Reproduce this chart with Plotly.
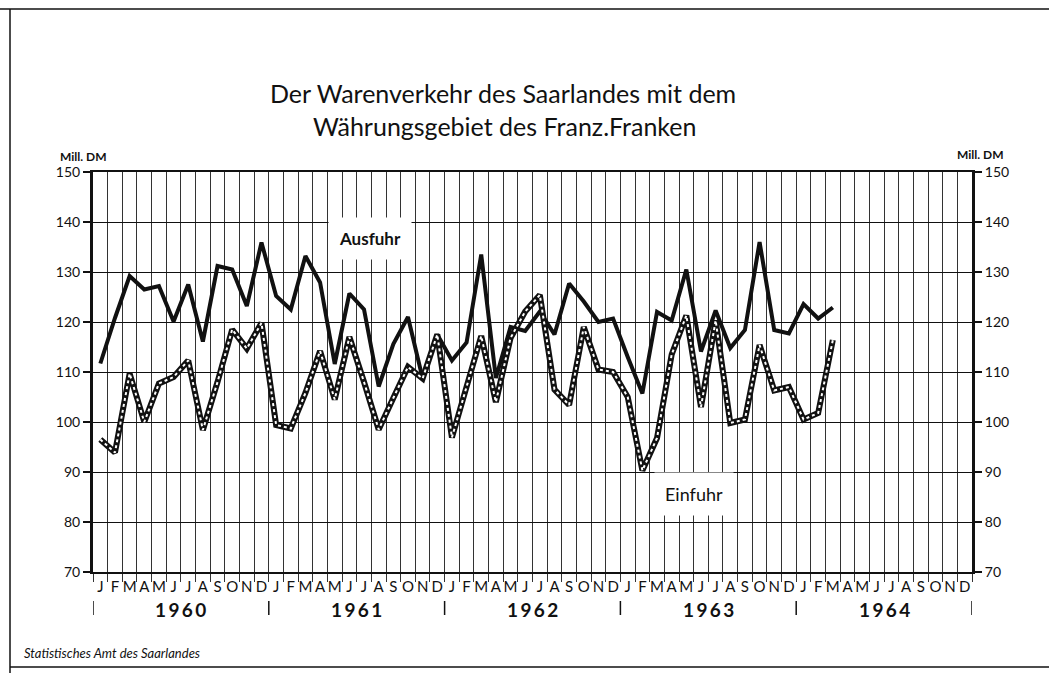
import plotly.graph_objects as go

# ---------------- data ----------------
months = ["J", "F", "M", "A", "M", "J", "J", "A", "S", "O", "N", "D"]
years = ["1960", "1961", "1962", "1963", "1964"]

ausfuhr = [
    111.7, 120.8, 129.2, 126.5, 127.2, 120.1, 127.5, 116.1, 131.2, 130.5, 123.2, 135.9,  # 1960
    125.2, 122.5, 133.2, 127.9, 111.6, 125.7, 122.5, 107.1, 115.6, 121.0, 108.7, 117.5,  # 1961
    112.3, 115.9, 133.5, 108.8, 119.0, 118.2, 122.1, 117.5, 127.7, 124.1, 120.0, 120.7,  # 1962
    113.0, 105.7, 122.0, 120.3, 130.5, 114.1, 122.3, 114.8, 118.4, 136.0, 118.4, 117.7,  # 1963
    123.6, 120.7, 122.9,                                                                  # 1964
]
einfuhr = [
    96.5, 93.9, 109.7, 100.0, 107.7, 109.0, 112.3, 98.4, 108.0, 118.5, 114.7, 119.8,     # 1960
    99.4, 98.7, 105.8, 114.2, 104.5, 117.0, 108.0, 98.5, 104.8, 111.0, 108.7, 117.5,     # 1961
    96.9, 107.3, 117.2, 104.0, 116.8, 122.1, 125.4, 106.5, 103.4, 119.0, 110.5, 110.0,   # 1962
    105.0, 90.3, 96.8, 113.5, 121.3, 103.0, 120.3, 99.8, 100.5, 115.4, 106.3, 107.0,     # 1963
    100.5, 101.8, 116.4,                                                                  # 1964
]
y_ticks = [70, 80, 90, 100, 110, 120, 130, 140, 150]

title_lines = ["Der Warenverkehr des Saarlandes mit dem", "Währungsgebiet des Franz.Franken"]
unit_label = "Mill. DM"
series_labels = ["Ausfuhr", "Einfuhr"]
source_text = "Statistisches Amt des Saarlandes"

# ---------------- derived ----------------
n_months = len(years) * 12
x_idx = list(range(len(ausfuhr)))
month_centers = list(range(n_months))
month_text = months * len(years)
boundaries = [i - 0.5 for i in range(n_months + 1)]

FONT = "Lato"
INK = "#111111"

W, H = 1049, 673
# plot area in page pixels: x 93..972, y 172..572
L, T = 93, 172
R = W - 972
B = H - 572
pw, ph = W - L - R, H - T - B


def px(xp):
    return (xp - L) / pw


def py(yp):
    return (H - B - yp) / ph


fig = go.Figure()

# Ausfuhr: solid heavy black line
fig.add_trace(go.Scatter(x=x_idx, y=ausfuhr, mode="lines",
                         line=dict(color=INK, width=4), hoverinfo="skip",
                         showlegend=False))
# Einfuhr: double line (black outline with white dashes inside)
fig.add_trace(go.Scatter(x=x_idx, y=einfuhr, mode="lines",
                         line=dict(color=INK, width=6), hoverinfo="skip",
                         showlegend=False))
fig.add_trace(go.Scatter(x=x_idx, y=einfuhr, mode="lines",
                         line=dict(color="white", width=2, dash="3px,3px"),
                         hoverinfo="skip", showlegend=False))
# dummy trace for right axis
fig.add_trace(go.Scatter(x=[x_idx[0]], y=[ausfuhr[0]], yaxis="y2", mode="lines",
                         line=dict(width=0), hoverinfo="skip", showlegend=False))

fig.update_layout(
    width=W, height=H,
    margin=dict(l=L, r=R, t=T, b=B),
    paper_bgcolor="white", plot_bgcolor="white",
    font=dict(family=FONT, color=INK),
    xaxis=dict(
        range=[-0.5, n_months - 0.5],
        tickmode="array", tickvals=month_centers, ticktext=month_text,
        ticks="", showgrid=False, zeroline=False,
        tickfont=dict(size=15, family=FONT, color=INK),
        showline=True, linecolor=INK, linewidth=2, mirror=True,
        minor=dict(tickmode="array", tickvals=boundaries, showgrid=True,
                   gridcolor="#333333", gridwidth=1, ticks="outside",
                   ticklen=8, tickcolor="#333333", tickwidth=1),
    ),
    yaxis=dict(
        range=[70, 150], tickmode="array", tickvals=y_ticks,
        showgrid=True, gridcolor=INK, gridwidth=1.3, zeroline=False,
        ticks="outside", ticklen=7, tickcolor=INK, tickwidth=1.5,
        tickfont=dict(size=14, family=FONT, color=INK),
        showline=True, linecolor=INK, linewidth=3,
    ),
    yaxis2=dict(
        range=[70, 150], tickmode="array", tickvals=y_ticks,
        overlaying="y", side="right", showgrid=False, zeroline=False,
        ticks="outside", ticklen=7, tickcolor=INK, tickwidth=1.5,
        tickfont=dict(size=14, family=FONT, color=INK),
        showline=True, linecolor=INK, linewidth=3,
    ),
)

ann = []
# title
ann.append(dict(text=title_lines[0], x=px(503), y=py(93), xref="paper", yref="paper",
                showarrow=False, font=dict(size=25, family=FONT, color=INK),
                xanchor="center", yanchor="middle"))
ann.append(dict(text=title_lines[1], x=px(505), y=py(126), xref="paper", yref="paper",
                showarrow=False, font=dict(size=25, family=FONT, color=INK),
                xanchor="center", yanchor="middle"))
# units
ann.append(dict(text="<b>" + unit_label + "</b>", x=px(58), y=py(156), xref="paper", yref="paper",
                showarrow=False, font=dict(size=12, family=FONT, color=INK),
                xanchor="left", yanchor="middle"))
ann.append(dict(text="<b>" + unit_label + "</b>", x=px(1006), y=py(154), xref="paper", yref="paper",
                showarrow=False, font=dict(size=12, family=FONT, color=INK),
                xanchor="right", yanchor="middle"))
# series labels with white boxes
ann.append(dict(text="<b>" + series_labels[0] + "</b>", x=px(370), y=py(238), xref="paper", yref="paper",
                showarrow=False, font=dict(size=17, family=FONT, color=INK),
                bgcolor="white", borderpad=10, xanchor="center", yanchor="middle"))
ann.append(dict(text=series_labels[1], x=px(694), y=py(494), xref="paper", yref="paper",
                showarrow=False, font=dict(size=18, family=FONT, color=INK),
                bgcolor="white", borderpad=10, xanchor="center", yanchor="middle"))
# years
for k, yr in enumerate(years):
    ann.append(dict(text="<b>" + "\u2009".join(yr) + "</b>", x=12 * k + 5.5, y=py(609),
                    xref="x", yref="paper", showarrow=False,
                    font=dict(size=19, family=FONT, color=INK),
                    xanchor="center", yanchor="middle"))
# source
ann.append(dict(text="<i>" + source_text + "</i>", x=px(22), y=py(653), xref="paper", yref="paper",
                showarrow=False, font=dict(size=13, family=FONT, color=INK),
                xanchor="left", yanchor="middle"))
fig.update_layout(annotations=ann)

shapes = []
# year separators
for k in range(len(years) + 1):
    shapes.append(dict(type="line", xref="x", yref="paper", x0=12 * k - 0.5, x1=12 * k - 0.5,
                       y0=py(601), y1=py(615), line=dict(color=INK, width=1.5)))
# frame of the sheet
shapes.append(dict(type="line", xref="paper", yref="paper", x0=px(0), x1=px(1049),
                   y0=py(9), y1=py(9), line=dict(color=INK, width=1.5)))
shapes.append(dict(type="line", xref="paper", yref="paper", x0=px(10), x1=px(10),
                   y0=py(9), y1=py(673), line=dict(color=INK, width=1.5)))
shapes.append(dict(type="line", xref="paper", yref="paper", x0=px(10), x1=px(1049),
                   y0=py(667), y1=py(667), line=dict(color=INK, width=1.5)))
fig.update_layout(shapes=shapes)

fig.write_html(
    "out.html",
    config={"displayModeBar": False},
    post_script="document.body.style.margin='0';document.body.style.overflow='hidden';",
)
